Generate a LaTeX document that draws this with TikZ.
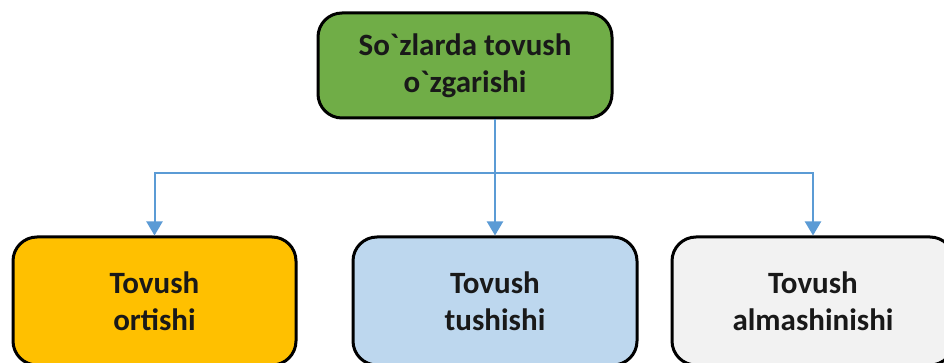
\documentclass[tikz,border=0pt]{standalone}
\usepackage{fontspec}
\setmainfont{Carlito}
\usepackage{xcolor}
\usetikzlibrary{arrows.meta}

\definecolor{topgreen}{HTML}{70AD47}
\definecolor{boxorange}{HTML}{FFC000}
\definecolor{boxblue}{HTML}{BDD7EE}
\definecolor{boxgray}{HTML}{F2F2F2}
\definecolor{linkblue}{HTML}{5B9BD5}

\tikzset{
    box/.style={draw=black, line width=3pt, rounded corners=24pt, align=center,
                font=\fontsize{31}{37}\selectfont\bfseries, text=black!90},
    link/.style={draw=linkblue, line width=2pt, -{Triangle[width=16pt,length=14pt]}}
}

\begin{document}
\begin{tikzpicture}[x=1pt, y=-1pt]
                    \clip (0,0) rectangle (944,363);
                    \fill[white] (0,0) rectangle (944,363);

                    \node[box, fill=topgreen, minimum width=294pt, minimum height=105pt]
                        (top) at (465,65.5) {So\textasciigrave zlarda tovush\\o\textasciigrave zgarishi};

                    \node[box, fill=boxorange, minimum width=283pt, minimum height=128pt]
                        (ortish) at (154.5,301) {Tovush\\ortishi};
                    \node[box, fill=boxblue, minimum width=284pt, minimum height=128pt]
                        (tushish) at (495,301) {Tovush\\tushishi};
                    \node[box, fill=boxgray, minimum width=282pt, minimum height=128pt]
                        (almash) at (813,301) {Tovush\\almashinishi};

                    \coordinate (split) at (495,173);
                    \draw[link] (top.south -| split) -- (tushish.north);
                    \foreach \n in {ortish, almash} {
                        \draw[link] (split) -| (\n.north);
                    }
                \end{tikzpicture}
\end{document}
